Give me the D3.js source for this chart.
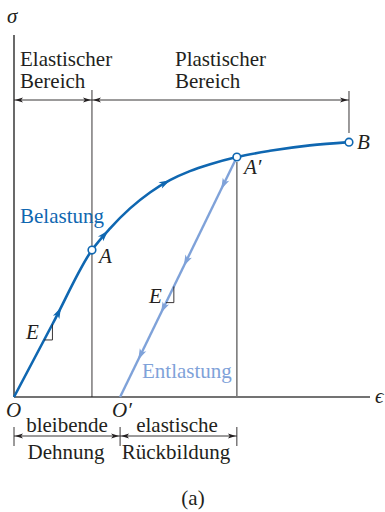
<!DOCTYPE html>
<html lang="de">
<head>
<meta charset="UTF-8">
<title>Spannungs-Dehnungs-Diagramm</title>
<script src="https://d3js.org/d3.v7.min.js"></script>
<style>
  body { margin: 0; background: #fff; }
  text { font-family: "Liberation Serif", "Times New Roman", serif; font-size: 21px; fill: #231f20; }
  .it { font-style: italic; }
</style>
</head>
<body>
<div id="chart"></div>
<script>
// Belastungskurve (Dehnung / Spannung, willkürliche Einheiten 0..100)
const loadEps = [0, 10.9, 21.9, 27.0, 32.6, 38.2, 43.8, 49.4, 55.1, 62.6, 71.9, 83.1, 94.1];
const loadSig = [0, 20.3, 40.6, 46.6, 52.1, 56.5, 59.9, 62.4, 64.3, 66.3, 68.0, 69.5, 70.4];
// Entlastung von A' nach O'
const unloadEps = [62.6, 29.8];
const unloadSig = [66.3, 0];
// markante Punkte
const pointNames = ["A", "A′", "B"];
const pointIdx = [2, 9, 12];
// Pfeilpositionen (Dehnung)
const loadArrowEps = [13.2, 26.4, 43.8];
const unloadArrowEps = [58.2, 47.7, 41.3, 34.9];

const width = 385, height = 512;
const darkBlue = "#0f67b1", lightBlue = "#7fa2d9", ink = "#231f20";

const x = d3.scaleLinear().domain([0, 100]).range([14, 370]);
const y = d3.scaleLinear().domain([0, 100]).range([397, 35]);

const svg = d3.select("#chart").append("svg")
  .attr("width", width).attr("height", height);

const epsA = loadEps[pointIdx[0]], epsA2 = loadEps[pointIdx[1]], epsB = loadEps[pointIdx[2]], epsO2 = unloadEps[1];

// Achsen
svg.append("line").attr("x1", x(0)).attr("x2", x(0)).attr("y1", y(0)).attr("y2", y(100))
  .attr("stroke", "#444").attr("stroke-width", 1.6);
svg.append("line").attr("x1", x(0)).attr("x2", x(100)).attr("y1", y(0)).attr("y2", y(0))
  .attr("stroke", "#444").attr("stroke-width", 1.6);
svg.append("text").attr("class", "it").attr("x", 7).attr("y", 23).text("σ");
svg.append("text").attr("class", "it").attr("x", 375).attr("y", 403).text("ϵ");

// Hilfslinien
svg.append("line").attr("x1", x(epsA)).attr("x2", x(epsA)).attr("y1", y(0)).attr("y2", 90)
  .attr("stroke", ink).attr("stroke-width", 0.9);
svg.append("line").attr("x1", x(epsB)).attr("x2", x(epsB)).attr("y1", 91).attr("y2", 133)
  .attr("stroke", ink).attr("stroke-width", 0.9);
svg.append("line").attr("x1", x(epsA2)).attr("x2", x(epsA2)).attr("y1", y(loadSig[pointIdx[1]]) + 5).attr("y2", y(0))
  .attr("stroke", "#7a7a7a").attr("stroke-width", 1.6);

// Bemaßungspfeile
function headAt(px, py, ang, len, half, color, sel) {
  sel.append("path")
    .attr("d", `M0,0 L${-len},${-half} L${-len * 0.75},0 L${-len},${half} Z`)
    .attr("fill", color)
    .attr("transform", `translate(${px},${py}) rotate(${ang})`);
}
function dimArrow(e1, e2, py) {
  svg.append("line").attr("x1", x(e1)).attr("x2", x(e2)).attr("y1", py).attr("y2", py)
    .attr("stroke", ink).attr("stroke-width", 0.9);
  headAt(x(e1) + 1, py, 180, 8, 2.4, ink, svg);
  headAt(x(e2) - 1, py, 0, 8, 2.4, ink, svg);
}
dimArrow(0, epsA, 100);
dimArrow(epsA, epsB, 100);
dimArrow(0, epsO2, 436);
dimArrow(epsO2, epsA2, 436);
[0, epsO2, epsA2].forEach(e => {
  svg.append("line").attr("x1", x(e)).attr("x2", x(e)).attr("y1", 427).attr("y2", 446)
    .attr("stroke", ink).attr("stroke-width", 0.9);
});

// Kurven
const line = d3.line().x(d => x(d[0])).y(d => y(d[1])).curve(d3.curveMonotoneX);
const loadPts = loadEps.map((e, i) => [e, loadSig[i]]);
const unloadPts = unloadEps.map((e, i) => [e, unloadSig[i]]);

const unloadPath = svg.append("path").datum(unloadPts)
  .attr("d", d3.line().x(d => x(d[0])).y(d => y(d[1])))
  .attr("fill", "none").attr("stroke", lightBlue).attr("stroke-width", 2.4);
const loadPath = svg.append("path").datum(loadPts)
  .attr("d", line)
  .attr("fill", "none").attr("stroke", darkBlue).attr("stroke-width", 2.6);

// Richtungspfeile auf den Kurven
function arrowsOn(pathSel, epsList, color, reverse) {
  const node = pathSel.node();
  const total = node.getTotalLength();
  epsList.forEach(e => {
    const tx = x(e);
    let lo = 0, hi = total;
    for (let k = 0; k < 40; k++) {
      const mid = (lo + hi) / 2;
      const px = node.getPointAtLength(mid).x;
      if ((px < tx) !== reverse) lo = mid; else hi = mid;
    }
    const p = node.getPointAtLength(lo);
    const q = node.getPointAtLength(Math.min(total, lo + 1));
    const ang = Math.atan2(q.y - p.y, q.x - p.x) * 180 / Math.PI;
    headAt(p.x, p.y, ang, 11, 3.6, color, svg);
  });
}
arrowsOn(loadPath, loadArrowEps, darkBlue, false);
arrowsOn(unloadPath, unloadArrowEps, lightBlue, true);

// Steigungsdreiecke
function slopeMark(p0, p1, e1, de) {
  // Punkt auf der Geraden bei e1, Dreieck nach rechts unten
  const sAt = e => p0[1] + (p1[1] - p0[1]) * (e - p0[0]) / (p1[0] - p0[0]);
  const xa = x(e1), ya = y(sAt(e1));
  const xb = x(e1 + de), yb = y(sAt(e1 + de));
  svg.append("path").attr("d", `M${xa},${ya} L${xb},${ya} L${xb},${yb}`)
    .attr("fill", "none").attr("stroke", ink).attr("stroke-width", 0.9);
}
slopeMark([0, 0], [loadEps[2], loadSig[2]], 8.5, 2.3);
slopeMark(unloadPts[0], unloadPts[1], 42.7, 2.2);
svg.append("text").attr("class", "it").attr("x", 26).attr("y", 339).text("E");
svg.append("text").attr("class", "it").attr("x", 149).attr("y", 303).text("E");

// Punkte
pointIdx.forEach(idx => {
  svg.append("circle").attr("cx", x(loadEps[idx])).attr("cy", y(loadSig[idx])).attr("r", 3.8)
    .attr("fill", "#fff").attr("stroke", darkBlue).attr("stroke-width", 1.6);
});
const labelPos = [[99, 263], [244, 174], [357, 149]];
pointNames.forEach((n, i) => {
  svg.append("text").attr("class", "it").attr("x", labelPos[i][0]).attr("y", labelPos[i][1]).text(n);
});

// Beschriftungen
svg.append("text").attr("x", 20).attr("y", 223).style("fill", darkBlue).text("Belastung");
svg.append("text").attr("x", 142).attr("y", 378).style("fill", lightBlue).text("Entlastung");
svg.append("text").attr("x", 20).attr("y", 66).text("Elastischer");
svg.append("text").attr("x", 20).attr("y", 88).text("Bereich");
svg.append("text").attr("x", 175).attr("y", 66).text("Plastischer");
svg.append("text").attr("x", 175).attr("y", 88).text("Bereich");
svg.append("text").attr("class", "it").attr("x", 6).attr("y", 417).text("O");
svg.append("text").attr("class", "it").attr("x", 112).attr("y", 417).text("O′");
svg.append("text").attr("x", 67).attr("y", 432).attr("text-anchor", "middle").text("bleibende");
svg.append("text").attr("x", 66).attr("y", 459).attr("text-anchor", "middle").text("Dehnung");
svg.append("text").attr("x", 177).attr("y", 432).attr("text-anchor", "middle").text("elastische");
svg.append("text").attr("x", 176).attr("y", 459).attr("text-anchor", "middle").text("Rückbildung");
svg.append("text").attr("x", 193).attr("y", 505).attr("text-anchor", "middle").text("(a)");
</script>
</body>
</html>
